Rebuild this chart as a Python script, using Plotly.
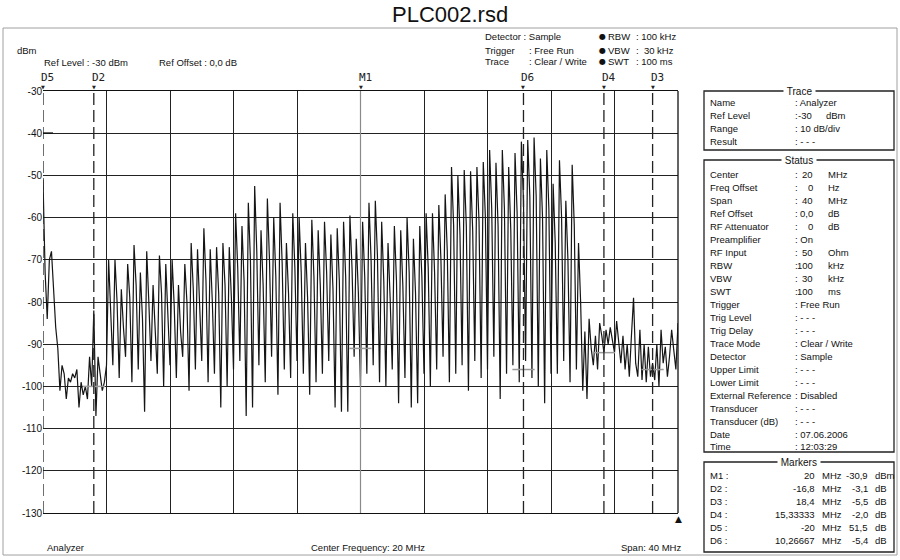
import plotly.graph_objects as go

# ---------------- data ----------------
START_MHZ = 0.0
STOP_MHZ = 40.0
SWEEP_POINTS = 301

# 0 .. 4 MHz (sweep points 0..30)
LEFT_LEVELS = [-51, -73, -84, -70, -68, -76, -86, -91, -101, -95, -97, -103, -98, -99, -97,
               -98, -96, -105, -99, -102, -100, -103, -93, -100, -82, -107, -93, -97, -101,
               -99, -95]

# 4 .. 33.8 MHz comb: one peak / mid / trough per sweep triple
SPIKE_PEAK = [-70, -70, -77, -71, -66.5, -73, -68, -76, -69, -71,
              -70, -76, -71, -66, -67.5, -62.5, -67.5, -67, -66, -67,
              -59, -62, -56.5, -52.5, -63, -55.5, -60, -56.5, -66, -59,
              -60, -66, -60.5, -63, -61, -64, -62.5, -61, -59.5, -65,
              -61, -56.5, -56, -61, -66, -62, -63, -60, -65, -62,
              -59, -59, -57, -54.5, -48, -50, -48.7, -49, -48, -46.8,
              -44, -47, -44, -48, -44.7, -42, -41.6, -41, -46, -44,
              -52, -46.4, -56, -47.5, -66]
SPIKE_MID = [-82, -80, -86, -79, -76, -84, -80, -88, -78, -83,
             -81, -87, -80, -77, -79, -75, -80, -78, -76, -79,
             -72, -75, -70, -68, -76, -70, -74, -71, -78, -72,
             -73, -79, -74, -76, -73, -77, -75, -74, -72, -78,
             -74, -70, -69, -75, -79, -75, -76, -73, -78, -74,
             -72, -73, -70, -68, -62, -64, -62, -63, -61, -60,
             -58, -62, -58, -63, -59, -56, -55, -55, -60, -58,
             -66, -60, -70, -62, -80]
SPIKE_TROUGH = [-95, -98, -93, -99, -96, -106, -94, -97, -100, -95,
                -98, -93, -101, -96, -94, -99, -97, -105, -100, -96,
                -94, -107, -105, -95, -99, -93, -102, -96, -98, -94,
                -97, -102, -99, -97, -94, -105, -106, -106, -93, -100,
                -97, -95, -99, -100, -96, -104, -98, -105, -104, -97,
                -100, -96, -93, -99, -97, -95, -101, -94, -98, -96,
                -93, -103, -97, -95, -99, -94, -98, -100, -104, -97,
                -97, -94, -99, -96, -101]

# 34 .. 40 MHz noise (sweep points 256..300)
RIGHT_LEVELS = [-87, -103, -84, -91, -95, -88, -96, -85, -88, -92,
                -86.6, -90, -86, -89, -92, -84.5, -90, -94.5, -88, -96,
                -90, -97.7, -88, -79, -94.5, -97.7, -86.6, -98.5, -90, -99,
                -90.6, -97.7, -94.5, -98.5, -90, -100, -86.6, -94.5, -90.6, -97.7,
                -92.9, -86.6, -91.4, -96, -85]

Y_TICKS = [-30, -40, -50, -60, -70, -80, -90, -100, -110, -120, -130]
X_GRID_MHZ = [0, 4, 8, 12, 16, 20, 24, 28, 32, 36, 40]

MARKER_NAMES = ["D5", "D2", "M1", "D6", "D4", "D3"]
MARKER_FREQ = [0.0, 3.2, 20.0, 30.26667, 35.33333, 38.4]
MARKER_BAR_LEVEL = [None, -100, -91, -96, -92, -96]

TRACE_LABELS = ["Name", "Ref Level", "Range", "Result"]
TRACE_VALUES = [(": Analyzer", "", ""), (":", "-30", "dBm"), (": 10 dB/div", "", ""), (": - - -", "", "")]

STATUS_LABELS = ["Center", "Freq Offset", "Span", "Ref Offset", "RF Attenuator", "Preamplifier",
                 "RF Input", "RBW", "VBW", "SWT", "Trigger", "Trig Level", "Trig Delay",
                 "Trace Mode", "Detector", "Upper Limit", "Lower Limit", "External Reference",
                 "Transducer", "Transducer (dB)", "Date", "Time"]
STATUS_VALUES = [(":", "20", "MHz"), (":", "0", "Hz"), (":", "40", "MHz"), (":", "0,0", "dB"),
                 (":", "0", "dB"), (": On", "", ""), (":", "50", "Ohm"), (":", "100", "kHz"),
                 (":", "30", "kHz"), (":", "100", "ms"), (": Free Run", "", ""), (": - - -", "", ""),
                 (": - - -", "", ""), (": Clear / Write", "", ""), (": Sample", "", ""),
                 (": - - -", "", ""), (": - - -", "", ""), (": Disabled", "", ""),
                 (": - - -", "", ""), (": - - -", "", ""), (": 07.06.2006", "", ""),
                 (": 12:03:29", "", "")]

MARKER_ROW_NAMES = ["M1 :", "D2 :", "D3 :", "D4 :", "D5 :", "D6 :"]
MARKER_ROW_FREQ = ["20", "-16,8", "18,4", "15,33333", "-20", "10,26667"]
MARKER_ROW_LEVEL = ["-30,9", "-3,1", "-5,5", "-2,0", "51,5", "-5,4"]
MARKER_ROW_UNIT = ["dBm", "dB", "dB", "dB", "dB", "dB"]

# ---------------- assemble sweep ----------------
levels = list(LEFT_LEVELS)
for p, m, t in zip(SPIKE_PEAK, SPIKE_MID, SPIKE_TROUGH):
    levels += [p, m, t]
levels += RIGHT_LEVELS
freqs = [START_MHZ + (STOP_MHZ - START_MHZ) * i / (SWEEP_POINTS - 1) for i in range(SWEEP_POINTS)]

# ---------------- geometry (pixels) ----------------
W, H = 900, 560
L, R, T, B = 43, 678, 91, 513
PW, PH = R - L, B - T


def px(x):
    return (x - L) / PW


def py(y):
    return (B - y) / PH


FONT = "Liberation Sans"
TXT = "#111111"
FS = 9.5

fig = go.Figure()
fig.add_trace(go.Scatter(x=freqs, y=levels, mode="lines",
                         line=dict(color="#151515", width=1.2), hoverinfo="skip", showlegend=False))

shapes = []
annotations = []

# marker lines, bars, labels
for name, f, bar in zip(MARKER_NAMES, MARKER_FREQ, MARKER_BAR_LEVEL):
    if name.startswith("M"):
        shapes.append(dict(type="line", xref="x", yref="paper", x0=f, x1=f, y0=0, y1=1,
                           line=dict(color="#8a8a8a", width=1.2)))
    else:
        shapes.append(dict(type="line", xref="x", yref="paper", x0=f, x1=f, y0=0, y1=1,
                           line=dict(color="#222222", width=1.3, dash="12px,5px")))
    if bar is not None:
        fig.add_trace(go.Scatter(x=[f - 0.7, f + 0.7], y=[bar, bar], mode="lines",
                                 line=dict(color="#9a9a9a", width=1.5), hoverinfo="skip",
                                 showlegend=False))
    annotations.append(dict(x=f, y=1, xref="x", yref="paper", text="▼", showarrow=False,
                            xanchor="center", yanchor="bottom", yshift=-1,
                            font=dict(family="DejaVu Sans", size=5, color="#222")))
    annotations.append(dict(x=f, y=1, xref="x", yref="paper", text=name, showarrow=False,
                            xanchor="left", yanchor="bottom", xshift=-4, yshift=5,
                            font=dict(family="DejaVu Sans Mono", size=11, color="#222")))

# plot frame right side + corner triangle
shapes.append(dict(type="line", xref="paper", yref="paper", x0=1, x1=1, y0=0, y1=1,
                   line=dict(color="#111", width=1.3)))
annotations.append(dict(x=1, y=0, xref="paper", yref="paper", text="▲", showarrow=False,
                        xanchor="center", yanchor="top", yshift=1,
                        font=dict(family="DejaVu Sans", size=9, color="#111")))
# short reference mark at -40 on left
shapes.append(dict(type="line", xref="paper", yref="paper", x0=0, x1=px(53), y0=py(133), y1=py(133),
                   line=dict(color="#111", width=1.3)))

# outer page frame
for x0, y0, x1, y1 in [(3, 28, 897, 28), (3, 28, 3, 555), (897, 28, 897, 555), (3, 555, 897, 555)]:
    shapes.append(dict(type="line", xref="paper", yref="paper", x0=px(x0), x1=px(x1),
                       y0=py(y0), y1=py(y1), line=dict(color="#a0a0a0", width=1)))


def text(x, y, s, size=FS, anchor="left", family=FONT, color=TXT, bg=None):
    a = dict(x=px(x), y=py(y), xref="paper", yref="paper", text=s, showarrow=False,
             xanchor=anchor, yanchor="middle", font=dict(family=family, size=size, color=color))
    if bg:
        a["bgcolor"] = bg
        a["borderpad"] = 0
    annotations.append(a)


# title and header
text(450, 14, "PLC002.rsd", size=22, anchor="center", family="Liberation Sans", color="#111")
text(15, 50, "dBm")
text(42, 63, "Ref Level : -30 dBm")
text(157, 63, "Ref Offset : 0,0 dB")
text(483, 37, "Detector : Sample")
text(483, 50, "Trigger")
text(527, 50, ": Free Run")
text(483, 62, "Trace")
text(527, 62, ": Clear / Write")
for yy, lab, val in [(37, "RBW", ": 100 kHz"), (50, "VBW", ":  30 kHz"), (62, "SWT", ": 100 ms")]:
    text(597, yy, "●", size=8, family="DejaVu Sans")
    text(606, yy, lab)
    text(634, yy, val)

# bottom
text(45, 547, "Analyzer")
text(368, 547, "Center Frequency: 20 MHz", anchor="center")
text(683, 547, "Span: 40 MHz", anchor="right")

# right-side boxes
BX0, BX1 = 704, 894
for (y0, y1, title) in [(91, 150, "Trace"), (160, 452, "Status"), (462, 552, "Markers")]:
    shapes.append(dict(type="rect", xref="paper", yref="paper", x0=px(BX0), x1=px(BX1),
                       y0=py(y1), y1=py(y0), line=dict(color="#222", width=1.3)))
    text(799, y0, "&nbsp;" + title + "&nbsp;", size=10, anchor="center", bg="white")

ROW = 12.95
for i, (lab, val) in enumerate(zip(TRACE_LABELS, TRACE_VALUES)):
    y = 103 + i * ROW
    text(708, y, lab)
    text(793, y, val[0])
    if val[1]:
        text(814, y, val[1], anchor="right")
        text(824, y, val[2])

for i, (lab, val) in enumerate(zip(STATUS_LABELS, STATUS_VALUES)):
    y = 175 + i * ROW
    text(708, y, lab)
    text(793, y, val[0])
    if val[1]:
        text(815, y, val[1], anchor="right")
        text(826, y, val[2])

for i, (nm, fq, lv, un) in enumerate(zip(MARKER_ROW_NAMES, MARKER_ROW_FREQ, MARKER_ROW_LEVEL,
                                          MARKER_ROW_UNIT)):
    y = 475 + i * 13.1
    text(708, y, nm)
    text(817, y, fq, anchor="right")
    text(820, y, "MHz")
    text(870, y, lv, anchor="right")
    text(873, y, un)

fig.update_layout(
    width=W, height=H, autosize=False,
    margin=dict(l=L, r=W - R, t=T, b=H - B, pad=0),
    paper_bgcolor="white", plot_bgcolor="white",
    showlegend=False,
    shapes=shapes, annotations=annotations,
    xaxis=dict(range=[START_MHZ, STOP_MHZ], tickvals=X_GRID_MHZ, showticklabels=False,
               showgrid=True, gridcolor="#222", gridwidth=1.1, zeroline=False,
               showline=True, mirror=True, linecolor="#111", linewidth=1.3, ticks=""),
    yaxis=dict(range=[-130, -30], tickvals=Y_TICKS, ticktext=[str(v) for v in Y_TICKS],
               showgrid=True, gridcolor="#222", gridwidth=1.1, zeroline=False,
               showline=False, ticks="", tickfont=dict(family=FONT, size=10, color=TXT)),
)

fig.write_html("out.html", config={"displayModeBar": False},
               post_script="document.body.style.margin='0px';document.body.style.overflow='hidden';")
